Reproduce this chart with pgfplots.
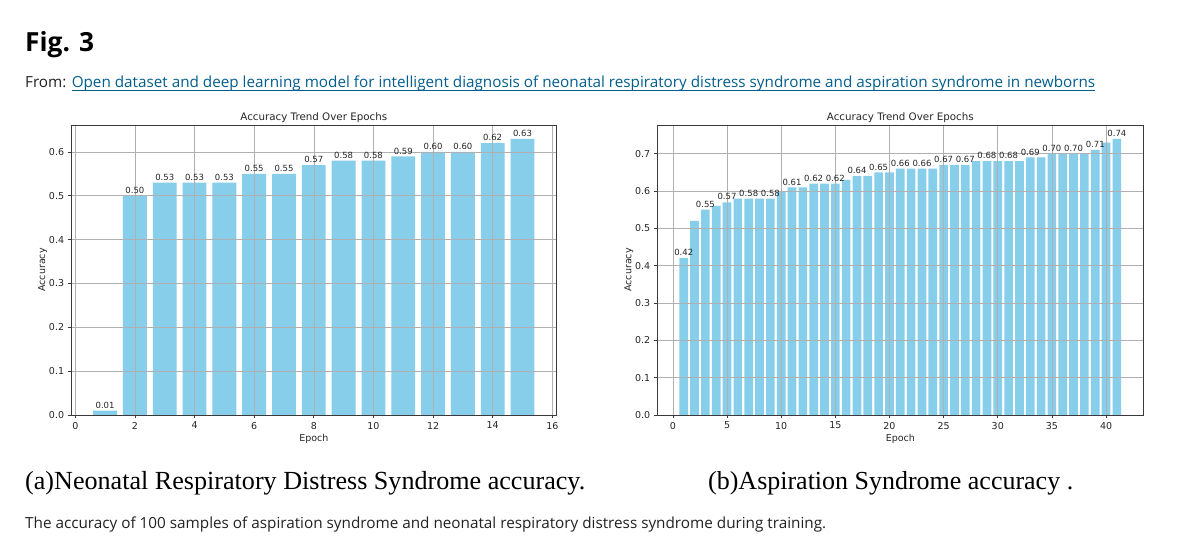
\documentclass[border=0pt]{standalone}
\usepackage{pgfplots}
\pgfplotsset{compat=1.18}
\usepackage{fontspec}
\setmainfont{Open Sans}
\newfontfamily\dejavu{DejaVu Sans}
\newfontfamily\capserif{Liberation Serif}

\definecolor{barblue}{HTML}{87CEEB}
\definecolor{linkblue}{HTML}{025E8D}
\definecolor{bodytext}{HTML}{222222}
\definecolor{gridgray}{HTML}{B0B0B0}
\definecolor{spine}{HTML}{3A3A3A}
\definecolor{labeltext}{HTML}{262626}

% underline with a rule placed close under the baseline
\newcommand\linkline[1]{\setbox0\hbox{#1}\rlap{\rule[-1.6pt]{\wd0}{0.6pt}}\box0}

% per-epoch training accuracy, neonatal respiratory distress syndrome
\pgfplotstableread{
epoch acc
1  0.01
2  0.50
3  0.53
4  0.53
5  0.53
6  0.55
7  0.55
8  0.57
9  0.58
10 0.58
11 0.59
12 0.60
13 0.60
14 0.62
15 0.63
}\nrdsdata

% per-epoch training accuracy, aspiration syndrome
\pgfplotstableread{
epoch acc
1  0.42
2  0.52
3  0.55
4  0.56
5  0.57
6  0.58
7  0.58
8  0.58
9  0.58
10 0.60
11 0.61
12 0.61
13 0.62
14 0.62
15 0.62
16 0.63
17 0.64
18 0.64
19 0.65
20 0.65
21 0.66
22 0.66
23 0.66
24 0.66
25 0.67
26 0.67
27 0.67
28 0.68
29 0.68
30 0.68
31 0.68
32 0.68
33 0.69
34 0.69
35 0.70
36 0.70
37 0.70
38 0.70
39 0.71
40 0.73
41 0.74
}\asdata

\pgfplotsset{
  accplot/.style={
    scale only axis, axis on top,
    height=290pt,
    ymin=0,
    grid=major,
    grid style={gridgray, line width=0.6pt},
    axis line style={spine, line width=0.7pt},
    tick align=outside, major tick length=3.5pt,
    tick style={spine, line width=0.7pt},
    tick pos=left,
    /pgf/number format/assume math mode=true,
    ticklabel style={font=\dejavu\fontsize{9.5}{11}\selectfont, text=labeltext},
    yticklabel={\pgfmathprintnumber[fixed,fixed zerofill,precision=1]{\tick}},
    title style={font=\dejavu\fontsize{10.3}{12}\selectfont, text=labeltext, yshift=-7pt},
    label style={font=\dejavu\fontsize{9.5}{11}\selectfont, text=labeltext},
    xlabel={Epoch}, ylabel={Accuracy},
    xlabel style={yshift=2pt},
    ylabel style={yshift=-5pt},
    title={Accuracy Trend Over Epochs},
  },
  valuelabels/.style={
    nodes near coords={\pgfmathprintnumber[fixed,fixed zerofill,precision=2]{\pgfplotspointmeta}},
    every node near coord/.append style={font=\dejavu\fontsize{8.5}{10}\selectfont, text=labeltext, inner sep=2pt},
  },
}

\begin{document}
\begin{tikzpicture}[x=1pt,y=1pt]
\useasboundingbox (0,0) rectangle (1200,545);
\fill[white] (0,0) rectangle (1200,545);

% page heading and source line
\node[anchor=base west, inner sep=0, text=black] at (25,493)
  {\resizebox{69pt}{!}{\bfseries Fig. 3}};
\node[anchor=base west, inner sep=0, text=bodytext] at (25,457)
  {\resizebox{1070pt}{!}{From: \textcolor{linkblue}{\linkline{Open dataset and deep learning model for intelligent diagnosis of neonatal respiratory distress syndrome and aspiration syndrome in newborns}}}};

% (a) neonatal respiratory distress syndrome
\begin{axis}[accplot,
  at={(71.1pt,130pt)}, anchor=south west,
  width=485.4pt,
  xmin=-0.14, xmax=16.14, ymax=0.6615,
  xtick={0,2,...,16}, ytick={0,0.1,...,0.6},
]
\addplot[ybar, bar width=0.8, fill=barblue, draw=none, valuelabels]
  table[x=epoch, y=acc] {\nrdsdata};
\end{axis}

% (b) aspiration syndrome
\begin{axis}[accplot,
  at={(657.3pt,130pt)}, anchor=south west,
  width=486pt,
  xmin=-1.44, xmax=43.44, ymax=0.777,
  xtick={0,5,...,40}, ytick={0,0.1,...,0.7},
]
\addplot[ybar, bar width=0.8, fill=barblue, draw=none]
  table[x=epoch, y=acc] {\asdata};
% values printed on every other epoch
\addplot[draw=none, mark=none, valuelabels,
  x filter/.expression={mod(x,2)==1 ? x : nan}]
  table[x=epoch, y=acc] {\asdata};
\end{axis}

% sub-captions and figure caption
\node[anchor=base west, inner sep=0, text=black] at (25,55)
  {\resizebox{560pt}{!}{\capserif (a)Neonatal Respiratory Distress Syndrome accuracy.}};
\node[anchor=base west, inner sep=0, text=black] at (708,55)
  {\resizebox{365pt}{!}{\capserif (b)Aspiration Syndrome accuracy .}};
\node[anchor=base west, inner sep=0, text=bodytext] at (25,16)
  {\resizebox{801pt}{!}{The accuracy of 100 samples of aspiration syndrome and neonatal respiratory distress syndrome during training.}};
\end{tikzpicture}
\end{document}
